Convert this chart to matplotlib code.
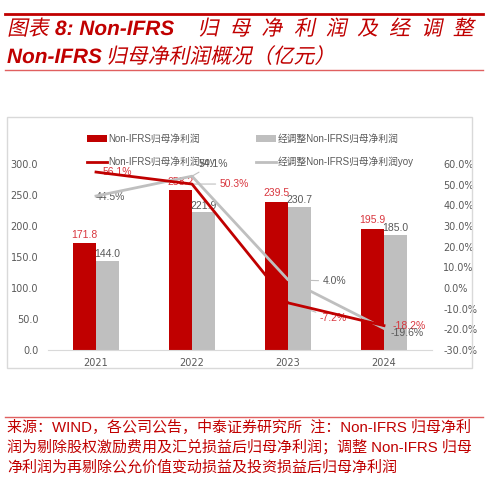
import matplotlib
matplotlib.use('Agg')
import matplotlib.pyplot as plt
from matplotlib.patches import Rectangle, PathPatch
from matplotlib.lines import Line2D
from matplotlib.textpath import TextPath
from matplotlib.font_manager import FontProperties
from matplotlib.transforms import Affine2D

# data (亿元)
years = ['2021', '2022', '2023', '2024']
nonifrs = [171.8, 258.2, 239.5, 195.9]
adj_nonifrs = [144.0, 221.9, 230.7, 185.0]
nonifrs_yoy = [56.1, 50.3, -7.2, -18.2]
adj_yoy = [44.5, 54.1, 4.0, -19.6]

W, H = 488, 479
RED = '#C00000'
GRAY = '#BFBFBF'
TXT = '#595959'
LBL_RED = '#D9363E'
FONTS = ['Liberation Sans', 'Noto Sans CJK SC']


def px(x, y):
    return x / W, 1 - y / H


fig = plt.figure(figsize=(W / 100, H / 100), dpi=100)

# slanted title text drawn as paths (CJK fonts have no italic)
fp_cjk = FontProperties(family='Noto Sans CJK SC', weight='normal')
fp_lat = FontProperties(family='Liberation Sans', weight='bold', style='italic')


def slant(x, baseline, s, fp, size=15, skew=12, ha='left', lw=0.0):
    tp = TextPath((0, 0), s, size=size, prop=fp)
    if ha == 'center':
        ext = tp.get_extents()
        x = x - (ext.x0 + ext.x1) / 2 * 100 / 72
    tr = Affine2D().scale(100 / 72).skew_deg(skew, 0).translate(x, H - baseline)
    fig.add_artist(PathPatch(tp, transform=tr, facecolor=RED, edgecolor=RED, lw=lw))


# header / footer rules
fig.add_artist(Line2D([5 / W, 483 / W], [1 - 13.5 / H] * 2, color=RED, lw=2))
fig.add_artist(Line2D([5 / W, 483 / W], [1 - 70 / H] * 2, color='#E06060', lw=1))
fig.add_artist(Line2D([5 / W, 483 / W], [1 - 416.5 / H] * 2, color='#E06060', lw=1))

# title
slant(7, 35, '图表', fp_cjk)
slant(55, 35, '8: Non-IFRS', fp_lat, skew=0)
title_chars = '归母净利润及经调整'
for i, ch in enumerate(title_chars):
    slant(208 + i * 31.9, 35, ch, fp_cjk, ha='center')
slant(7, 63, 'Non-IFRS', fp_lat, skew=0)
slant(106, 63, '归母净利润概况（亿元）', fp_cjk)

# footnote
fkw = dict(color=RED, fontsize=10.8, family=FONTS, va='center', ha='left')
fig.text(*px(7, 427), '来源：WIND，各公司公告，中泰证券研究所  注：Non-IFRS 归母净利', **fkw)
fig.text(*px(7, 447), '润为剔除股权激励费用及汇兑损益后归母净利润；调整 Non-IFRS 归母', **fkw)
fig.text(*px(7, 467), '净利润为再剔除公允价值变动损益及投资损益后归母净利润', **fkw)

# chart frame
fig.add_artist(Rectangle(px(7, 368), 465 / W, 251 / H, transform=fig.transFigure,
                         fill=False, edgecolor='#D9D9D9', lw=1))

l, r, t, b = 48, 432, 164, 350
ax = fig.add_axes([l / W, 1 - b / H, (r - l) / W, (b - t) / H])
x = list(range(len(years)))
bw = 0.24
b1 = ax.bar([i - bw / 2 for i in x], nonifrs, bw, color=RED, label='Non-IFRS归母净利润', zorder=2)
b2 = ax.bar([i + bw / 2 for i in x], adj_nonifrs, bw, color=GRAY, label='经调整Non-IFRS归母净利润', zorder=2)
ax.set_ylim(0, 300)
ax.set_xlim(-0.5, 3.5)
ax.set_yticks(range(0, 301, 50))
ax.set_yticklabels([f'{v:.1f}' for v in range(0, 301, 50)])
ax.set_xticks(x)
ax.set_xticklabels(years)
for s in ['top', 'left', 'right']:
    ax.spines[s].set_visible(False)
ax.spines['bottom'].set_color('#D9D9D9')
ax.tick_params(axis='both', length=0, labelsize=7, labelcolor=TXT)
ax.tick_params(axis='y', pad=7)
ax.tick_params(axis='x', pad=6)

for i, v in enumerate(nonifrs):
    ax.text(i - bw / 2, v + 5, f'{v:.1f}', ha='center', va='bottom', fontsize=7.5,
            color=LBL_RED, family=FONTS, zorder=5)
for i, v in enumerate(adj_nonifrs):
    ax.text(i + bw / 2, v + 3, f'{v:.1f}', ha='center', va='bottom', fontsize=7.5,
            color=TXT, family=FONTS, zorder=5)

ax2 = ax.twinx()
ax2.set_ylim(-30, 60)
ax2.set_yticks(range(-30, 61, 10))
ax2.set_yticklabels([f'{v:.1f}%' for v in range(-30, 61, 10)])
for s in ['top', 'left', 'right', 'bottom']:
    ax2.spines[s].set_visible(False)
ax2.tick_params(axis='y', length=0, labelsize=7, labelcolor=TXT, pad=8)
l1, = ax2.plot(x, nonifrs_yoy, color=RED, lw=2, label='Non-IFRS归母净利润yoy', zorder=4)
l2, = ax2.plot(x, adj_yoy, color=GRAY, lw=2, label='经调整Non-IFRS归母净利润yoy', zorder=3)

# yoy labels (offsets in points)
red_off = [(5, 0), (20, 0), (23, -11), (6, 0)]
red_lead = [False, True, True, False]
gray_off = [(0, -1), (5, 9), (25, -1), (5, -3)]
gray_lead = [False, True, True, False]
lead = dict(arrowstyle='-', color=GRAY, lw=0.8, shrinkA=1, shrinkB=0)
for i, v in enumerate(nonifrs_yoy):
    ax2.annotate(f'{v:.1f}%', (i, v), xytext=red_off[i], textcoords='offset points',
                 ha='left', va='center', fontsize=7.5, color=LBL_RED, family=FONTS, zorder=2,
                 arrowprops=lead if red_lead[i] else None)
for i, v in enumerate(adj_yoy):
    ax2.annotate(f'{v:.1f}%', (i, v), xytext=gray_off[i], textcoords='offset points',
                 ha='left', va='center', fontsize=7.5, color=TXT, family=FONTS, zorder=2,
                 arrowprops=lead if gray_lead[i] else None)

fig.legend(handles=[b1, l1, b2, l2], loc='upper left', bbox_to_anchor=px(87, 134),
           ncol=2, frameon=False, borderpad=0, borderaxespad=0, handlelength=2.1,
           handleheight=0.6, labelspacing=1.3, columnspacing=4.2, handletextpad=0.1,
           prop={'family': FONTS, 'size': 7}, labelcolor=TXT)

fig.savefig('out.png', dpi=100)
